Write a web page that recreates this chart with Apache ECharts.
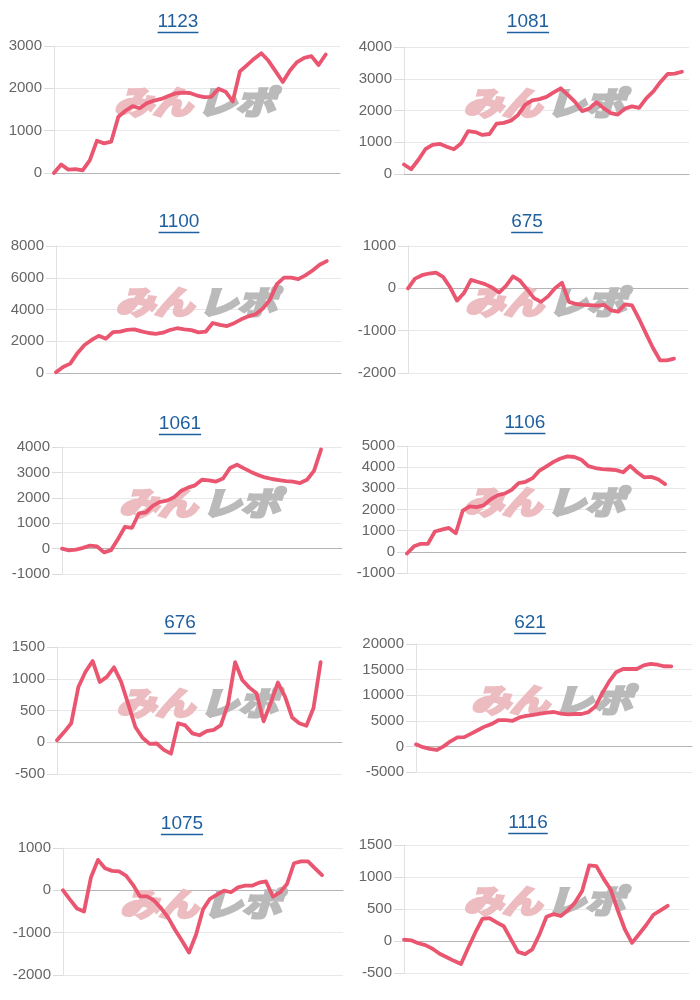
<!DOCTYPE html>
<html>
<head>
<meta charset="utf-8">
<script src="https://cdn.jsdelivr.net/npm/echarts@6/dist/echarts.min.js"></script>
<style>
html,body{margin:0;padding:0;background:#ffffff;}
#chart{width:700px;height:1000px;}
</style>
</head>
<body>
<div id="chart"></div>
<script>
// ---- data ----
const titles = ['1123', '1081', '1100', '675', '1061', '1106', '676', '621', '1075', '1116'];

const values1123 = [0, 200, 80, 90, 60, 300, 760, 700, 740, 1330, 1470, 1580, 1530, 1650, 1710, 1750, 1820, 1880, 1900, 1890, 1830, 1790, 1800, 1990, 1920, 1690, 2400, 2550, 2700, 2830, 2650, 2400, 2150, 2420, 2620, 2720, 2760, 2550, 2800];
const values1081 = [300, 150, 440, 780, 920, 950, 860, 780, 960, 1350, 1320, 1230, 1260, 1590, 1610, 1680, 1860, 2180, 2320, 2360, 2430, 2570, 2700, 2490, 2270, 1980, 2060, 2260, 2080, 1920, 1870, 2060, 2130, 2080, 2380, 2600, 2900, 3150, 3160, 3220];
const values1100 = [50, 380, 590, 1250, 1760, 2080, 2340, 2160, 2580, 2610, 2720, 2750, 2620, 2520, 2460, 2540, 2710, 2820, 2750, 2700, 2560, 2600, 3150, 3030, 2960, 3140, 3380, 3570, 3700, 4050, 4600, 5600, 6010, 6010, 5910, 6150, 6460, 6820, 7050];
const values675 = [0, 230, 310, 350, 370, 270, 30, -290, -110, 200, 150, 100, 20, -100, 60, 280, 180, -20, -230, -320, -190, 0, 130, -320, -370, -390, -395, -410, -390, -520, -550, -380, -400, -720, -1070, -1410, -1700, -1700, -1660];
const values1061 = [0, -70, -40, 30, 120, 90, -150, -60, 380, 860, 820, 1390, 1430, 1690, 1840, 1890, 2020, 2270, 2400, 2490, 2710, 2690, 2640, 2760, 3170, 3300, 3160, 3020, 2900, 2800, 2740, 2700, 2660, 2640, 2580, 2710, 3060, 3900];
const values1106 = [-80, 260, 380, 380, 960, 1050, 1130, 880, 1950, 2150, 2110, 2200, 2480, 2680, 2750, 2930, 3250, 3310, 3480, 3840, 4040, 4250, 4410, 4510, 4480, 4350, 4050, 3960, 3910, 3890, 3860, 3760, 4060, 3760, 3520, 3540, 3430, 3200];
const values676 = [30, 160, 300, 870, 1110, 1280, 950, 1030, 1180, 950, 600, 240, 70, -25, -20, -120, -180, 300, 265, 140, 110, 175, 195, 270, 600, 1260, 980, 860, 770, 330, 620, 940, 720, 390, 300, 260, 540, 1260];
const values621 = [400, -150, -480, -700, 0, 1000, 1780, 1800, 2500, 3200, 3900, 4400, 5150, 5150, 5000, 5650, 5950, 6180, 6420, 6600, 6720, 6400, 6250, 6330, 6330, 6700, 7800, 10400, 12700, 14500, 15120, 15120, 15120, 15830, 16100, 15950, 15650, 15640];
const values1075 = [0, -220, -430, -500, 310, 720, 520, 460, 448, 350, 130, -145, -145, -240, -420, -640, -930, -1190, -1470, -1050, -450, -200, -100, -5, -45, 70, 110, 110, 180, 210, -150, -50, 150, 640, 684, 684, 520, 360];
const values1116 = [20, 10, -35, -65, -120, -200, -255, -310, -360, -110, 130, 345, 357, 290, 230, 30, -170, -205, -130, 100, 380, 420, 390, 480, 600, 780, 1180, 1170, 975, 805, 480, 180, -30, 110, 250, 410, 480, 550];

const seriesValues = [values1123, values1081, values1100, values675, values1061, values1106, values676, values621, values1075, values1116];

// y-axis tick setup (labels)
const yMins = [0, 0, 0, -2000, -1000, -1000, -500, -5000, -2000, -500];
const yMaxs = [3000, 4000, 8000, 1000, 4000, 5000, 1500, 20000, 1000, 1500];
const yIntervals = [1000, 1000, 2000, 1000, 1000, 1000, 500, 5000, 1000, 500];

// x categories (time slots)
const categories = Array.from({ length: 41 }, (_, i) => String(i));

// ---- layout (pixels) ----
const layout = [
  { left: 54, top: 46, width: 286, height: 127, tx: 178, ty: 23 },
  { left: 404, top: 47, width: 285, height: 127, tx: 528, ty: 23 },
  { left: 56, top: 246, width: 285, height: 127, tx: 179, ty: 223 },
  { left: 408, top: 246, width: 280, height: 127, tx: 527, ty: 223 },
  { left: 62, top: 447, width: 280, height: 127, tx: 180, ty: 425 },
  { left: 407, top: 446, width: 279, height: 127, tx: 525, ty: 424 },
  { left: 57, top: 647, width: 285, height: 127, tx: 180, ty: 624 },
  { left: 416, top: 644, width: 276, height: 128, tx: 530, ty: 624 },
  { left: 63, top: 848, width: 280, height: 127, tx: 182, ty: 825 },
  { left: 404, top: 845, width: 285, height: 128, tx: 528, ty: 824 }
];

const titleFont = '19px "Liberation Sans", Arial, sans-serif';
const markFont = 'italic bold 32px "Noto Sans CJK JP", sans-serif';
const measureCtx = document.createElement('canvas').getContext('2d');
measureCtx.font = titleFont;

const grids = [], xAxes = [], yAxes = [], series = [], graphics = [];

layout.forEach((p, i) => {
  grids.push({ left: p.left, top: p.top, width: p.width, height: p.height });
  xAxes.push({
    type: 'category', gridIndex: i, data: categories, boundaryGap: false,
    axisLine: { show: true, onZero: true, lineStyle: { color: '#b4b4b4', width: 1 } },
    axisTick: { show: false }, axisLabel: { show: false }, splitLine: { show: false }
  });
  yAxes.push({
    type: 'value', gridIndex: i, min: yMins[i], max: yMaxs[i], interval: yIntervals[i],
    axisLine: { show: true, lineStyle: { color: '#e2e2e2', width: 1 } },
    axisTick: { show: true, length: 10, lineStyle: { color: '#dcdcdc' } },
    axisLabel: {
      margin: 12, color: '#666666', fontSize: 15,
      fontFamily: '"Liberation Sans", Arial, sans-serif',
      formatter: (v) => String(v)
    },
    splitLine: { show: true, lineStyle: { color: '#e8e8e8', width: 1 } }
  });
  series.push({
    type: 'line', xAxisIndex: i, yAxisIndex: i, data: seriesValues[i],
    showSymbol: false, symbol: 'none', smooth: false, z: 5,
    lineStyle: { color: '#ea5570', width: 3.8, cap: 'round', join: 'round' },
    itemStyle: { color: '#ea5570' }, silent: true
  });

  // title text + underline
  const w = measureCtx.measureText(titles[i]).width;
  graphics.push({
    type: 'text', left: p.tx - w / 2, top: p.ty - 11, z: 10,
    style: { text: titles[i], font: titleFont, fill: '#1f5f9e' }
  });
  graphics.push({
    type: 'line', z: 10,
    shape: { x1: p.tx - w / 2, y1: p.ty + 9.5, x2: p.tx + w / 2, y2: p.ty + 9.5 },
    style: { stroke: '#1f5f9e', lineWidth: 1.5 }
  });

  // watermark
  const cx = p.left + p.width / 2 - 3;
  const cy = p.top + p.height / 2 - 8;
  graphics.push({
    type: 'text', x: cx - 2, y: cy, z: 1, scaleX: 1.22,
    style: {
      text: 'みん', font: markFont,
      fill: '#ecbcc0', stroke: '#ecbcc0', lineWidth: 3.2,
      align: 'right', verticalAlign: 'middle'
    }
  });
  graphics.push({
    type: 'text', x: cx + 3, y: cy, z: 1, scaleX: 1.22,
    style: {
      text: 'レポ', font: markFont,
      fill: '#bababa', stroke: '#bababa', lineWidth: 3.2,
      align: 'left', verticalAlign: 'middle'
    }
  });
});

const chart = echarts.init(document.getElementById('chart'), null, { renderer: 'canvas' });
chart.setOption({
  animation: false,
  backgroundColor: '#ffffff',
  grid: grids,
  xAxis: xAxes,
  yAxis: yAxes,
  series: series,
  graphic: graphics
});
</script>
</body>
</html>
